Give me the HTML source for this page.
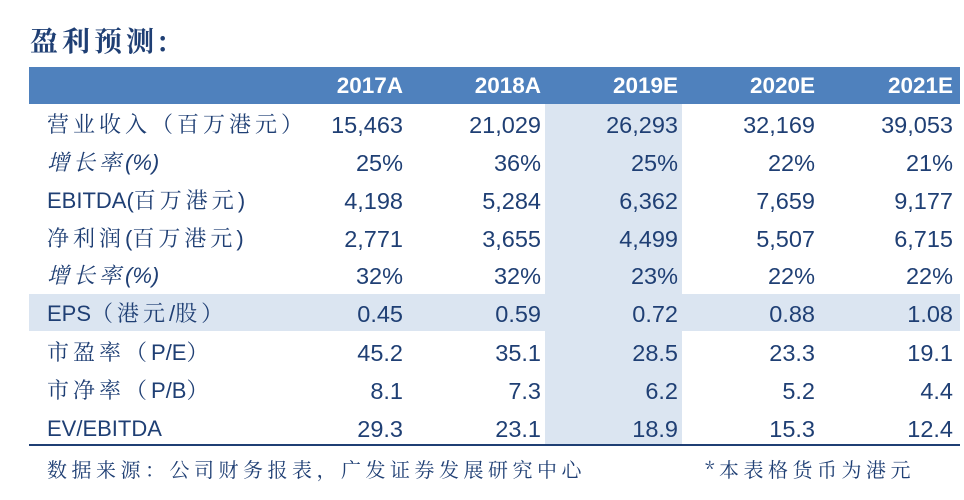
<!DOCTYPE html>
<html><head><meta charset="utf-8"><style>
body{margin:0;width:964px;height:500px;background:#fff;overflow:hidden;position:relative;font-family:"Liberation Sans","Noto Sans CJK SC",sans-serif;color:#1f3f74}
.t{position:absolute;left:30px;top:20px;font:bold 28px "Noto Serif CJK SC",serif;color:#1f3f74;letter-spacing:4px}
.hdr{position:absolute;left:29px;top:67px;width:931px;height:37px;background:#4f81bd}
.col{position:absolute;left:545px;top:104px;width:137px;height:341px;background:#dbe5f1}
.eps{position:absolute;left:29px;top:294px;width:931px;height:37px;background:#dbe5f1}
.line{position:absolute;left:29px;top:444px;width:931px;height:2px;background:#1f3f74}
.r{position:absolute;left:0;width:964px;height:38px;font-size:23.5px;line-height:38px}
.r span{position:absolute;text-align:right;width:130px}
.r .l{left:47px;text-align:left;width:320px;font-family:"Liberation Sans","Noto Serif CJK SC",sans-serif;font-size:22px}
.r .l .cj{letter-spacing:4px}
.c1{left:273px}.c2{left:411px}.c3{left:548px}.c4{left:685px}.c5{left:823px}
.h{color:#fff;font-weight:bold;font-size:22.5px}
i{font-style:italic}
.f{position:absolute;top:454px;font:20px "Noto Serif CJK SC",serif;color:#1f3f74;letter-spacing:4.5px}
</style></head><body>
<div class="t">盈利预测:</div>
<div class="hdr"></div><div class="col"></div><div class="eps"></div><div class="line"></div>
<div class="r h" style="top:67px"><span class="c1">2017A</span><span class="c2">2018A</span><span class="c3">2019E</span><span class="c4">2020E</span><span class="c5">2021E</span></div>
<div class="r" style="top:106px"><span class="l"><span class="cj" style="position:static">营业收入（百万港元）</span></span><span class="c1">15,463</span><span class="c2">21,029</span><span class="c3">26,293</span><span class="c4">32,169</span><span class="c5">39,053</span></div>
<div class="r" style="top:144px"><span class="l"><i><span class="cj" style="position:static">增长率</span>(%)</i></span><span class="c1">25%</span><span class="c2">36%</span><span class="c3">25%</span><span class="c4">22%</span><span class="c5">21%</span></div>
<div class="r" style="top:182px"><span class="l">EBITDA(<span class="cj" style="position:static">百万港元</span>)</span><span class="c1">4,198</span><span class="c2">5,284</span><span class="c3">6,362</span><span class="c4">7,659</span><span class="c5">9,177</span></div>
<div class="r" style="top:220px"><span class="l"><span class="cj" style="position:static">净利润</span>(<span class="cj" style="position:static">百万港元</span>)</span><span class="c1">2,771</span><span class="c2">3,655</span><span class="c3">4,499</span><span class="c4">5,507</span><span class="c5">6,715</span></div>
<div class="r" style="top:257px"><span class="l"><i><span class="cj" style="position:static">增长率</span>(%)</i></span><span class="c1">32%</span><span class="c2">32%</span><span class="c3">23%</span><span class="c4">22%</span><span class="c5">22%</span></div>
<div class="r" style="top:295px"><span class="l">EPS<span class="cj" style="position:static">（港元</span>/<span class="cj" style="position:static">股）</span></span><span class="c1">0.45</span><span class="c2">0.59</span><span class="c3">0.72</span><span class="c4">0.88</span><span class="c5">1.08</span></div>
<div class="r" style="top:334px"><span class="l"><span class="cj" style="position:static">市盈率（</span>P/E<span class="cj" style="position:static">）</span></span><span class="c1">45.2</span><span class="c2">35.1</span><span class="c3">28.5</span><span class="c4">23.3</span><span class="c5">19.1</span></div>
<div class="r" style="top:372px"><span class="l"><span class="cj" style="position:static">市净率（</span>P/B<span class="cj" style="position:static">）</span></span><span class="c1">8.1</span><span class="c2">7.3</span><span class="c3">6.2</span><span class="c4">5.2</span><span class="c5">4.4</span></div>
<div class="r" style="top:410px"><span class="l">EV/EBITDA</span><span class="c1">29.3</span><span class="c2">23.1</span><span class="c3">18.9</span><span class="c4">15.3</span><span class="c5">12.4</span></div>
<div class="f" style="left:47px">数据来源：公司财务报表，广发证券发展研究中心</div>
<div class="f" style="left:705px">*本表格货币为港元</div>
</body></html>
